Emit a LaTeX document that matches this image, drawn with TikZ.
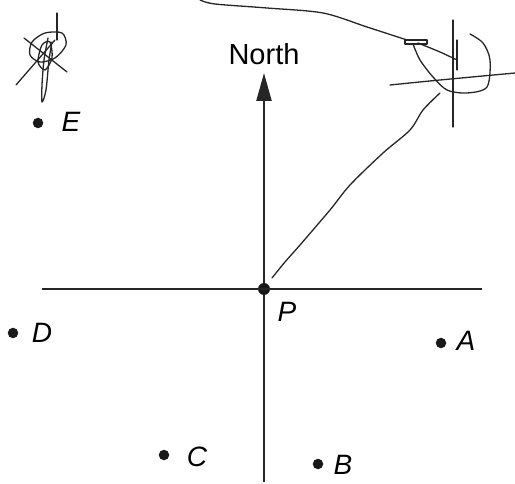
\documentclass[tikz,border=0pt]{standalone}
\usepackage{fontspec}
\setmainfont{Liberation Sans}
\usetikzlibrary{arrows.meta}
\begin{document}
\begin{tikzpicture}[x=1pt,y=-1pt,
  axis/.style={line width=2.4pt,draw=black!85},
  pt/.style={circle,fill=black!90,inner sep=0pt,minimum size=10.5pt},
  lbl/.style={font=\fontsize{28}{32}\selectfont\itshape,inner sep=0pt},
  pen/.style={line width=1.3pt,black!85,line cap=round,line join=round}]
\useasboundingbox (0,0) rectangle (515,484);
% axes
\coordinate (W) at (42,289);
\coordinate (Ee) at (482,289);
\coordinate (S) at (264,482);
\coordinate (Nt) at (264,73);
\node[pt,minimum size=12pt] (P) at (264,289) {};
\draw[axis] (W) -- (Ee);
\draw[axis] (S) -- (P);
\draw[axis,-{Triangle[length=28pt,width=15pt]}] (P) -- (Nt);
\node[font=\fontsize{29}{33}\selectfont,inner sep=0pt] (north) at (264,54) {North};
% points
\node[pt] (E) at (38,123) {};
\node[pt] (D) at (13,333) {};
\node[pt] (A) at (441,343) {};
\node[pt] (C) at (164,455) {};
\node[pt] (B) at (318,464) {};
\node[lbl] (lE) at (71,122) {E};
\node[lbl] (lD) at (42,333) {D};
\node[lbl] (lA) at (466,341) {A};
\node[lbl] (lC) at (197,457) {C};
\node[lbl] (lB) at (343,465) {B};
\node[lbl] (lP) at (287,312) {P};
% pen scribbles
\draw[pen] plot[smooth] coordinates {(200,0) (215,4) (267,8) (323,13) (367,27) (407,40)};
\draw[pen] (405,40) rectangle (427,44);
\draw[pen] plot[smooth] coordinates {(418,43) (440,52) (457,60)};
\draw[pen] plot[smooth] coordinates {(413,44) (420,60) (433,77) (447,90) (467,93) (487,87) (490,60) (483,43) (470,34)};
\draw[pen] (453,20) -- (453,127);
\draw[pen] (457,40) -- (457,70);
\draw[pen] plot[smooth] coordinates {(390,85) (440,80) (515,73)};
\draw[pen] plot[smooth] coordinates {(272,278) (285,262) (300,245) (330,210) (350,185) (383,153) (410,130) (423,110) (440,93)};
% E scribble
\draw[pen] (16,85) -- (55,40);
\draw[pen] (24,38) -- (67,72);
\draw[pen] (57,13) -- (57,40);
\draw[pen] plot[smooth cycle] coordinates {(45,33) (62,33) (66,45) (55,58) (40,62) (30,55) (32,42)};
\draw[pen] plot[smooth] coordinates {(48,38) (44,60) (42,85) (42,102) (46,90) (49,60) (52,42)};
\draw[pen] plot[smooth cycle] coordinates {(42,45) (50,42) (52,58) (45,70) (38,62)};
\end{tikzpicture}
\end{document}
